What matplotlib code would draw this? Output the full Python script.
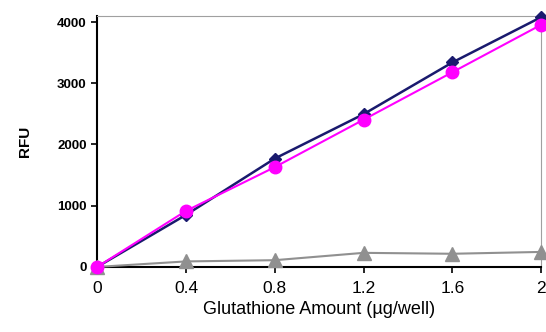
import matplotlib.pyplot as plt

plt.rcParams['font.family'] = ['Liberation Sans', 'DejaVu Sans']

# Data
amount = [0, 0.4, 0.8, 1.2, 1.6, 2]
series_navy = [0, 850, 1770, 2495, 3340, 4080]
series_pink = [0, 915, 1630, 2405, 3180, 3955]
series_gray = [0, 90, 110, 230, 215, 245]
xtick_labels = ["0", "0.4", "0.8", "1.2", "1.6", "2"]
yticks = [0, 1000, 2000, 3000, 4000]

fig = plt.figure(figsize=(5.46, 3.32), dpi=100)
ax = fig.add_axes([0.178, 0.196, 0.813, 0.756])

ax.plot(amount, series_gray, color="#909090", lw=1.5, marker="^", ms=10,
        clip_on=False, zorder=3)
ax.plot(amount, series_navy, color="#1a1a6e", lw=1.8, marker="D", ms=6,
        clip_on=False, zorder=4)
ax.plot(amount, series_pink, color="#ff00ff", lw=1.5, marker="o", ms=9,
        clip_on=False, zorder=5)

ax.set_xlim(0, 2)
ax.set_ylim(0, 4100)
ax.set_xticks(amount)
ax.set_xticklabels(xtick_labels, fontsize=12.5)
ax.set_yticks(yticks)
ax.set_yticklabels([str(v) for v in yticks], fontsize=9.5, fontweight="bold")

ax.spines["top"].set_color("#a0a0a0")
ax.spines["right"].set_color("#a0a0a0")
ax.spines["left"].set_color("black")
ax.spines["bottom"].set_color("black")
ax.spines["left"].set_linewidth(1.5)
ax.spines["bottom"].set_linewidth(1.5)
ax.tick_params(axis="both", direction="out", length=4, width=1.2)
ax.tick_params(axis="x", pad=6)

ax.set_xlabel("Glutathione Amount (µg/well)", fontsize=13, labelpad=4)
ax.set_ylabel("RFU", fontsize=11, fontweight="bold", labelpad=18)

fig.savefig("out.png", dpi=100)
